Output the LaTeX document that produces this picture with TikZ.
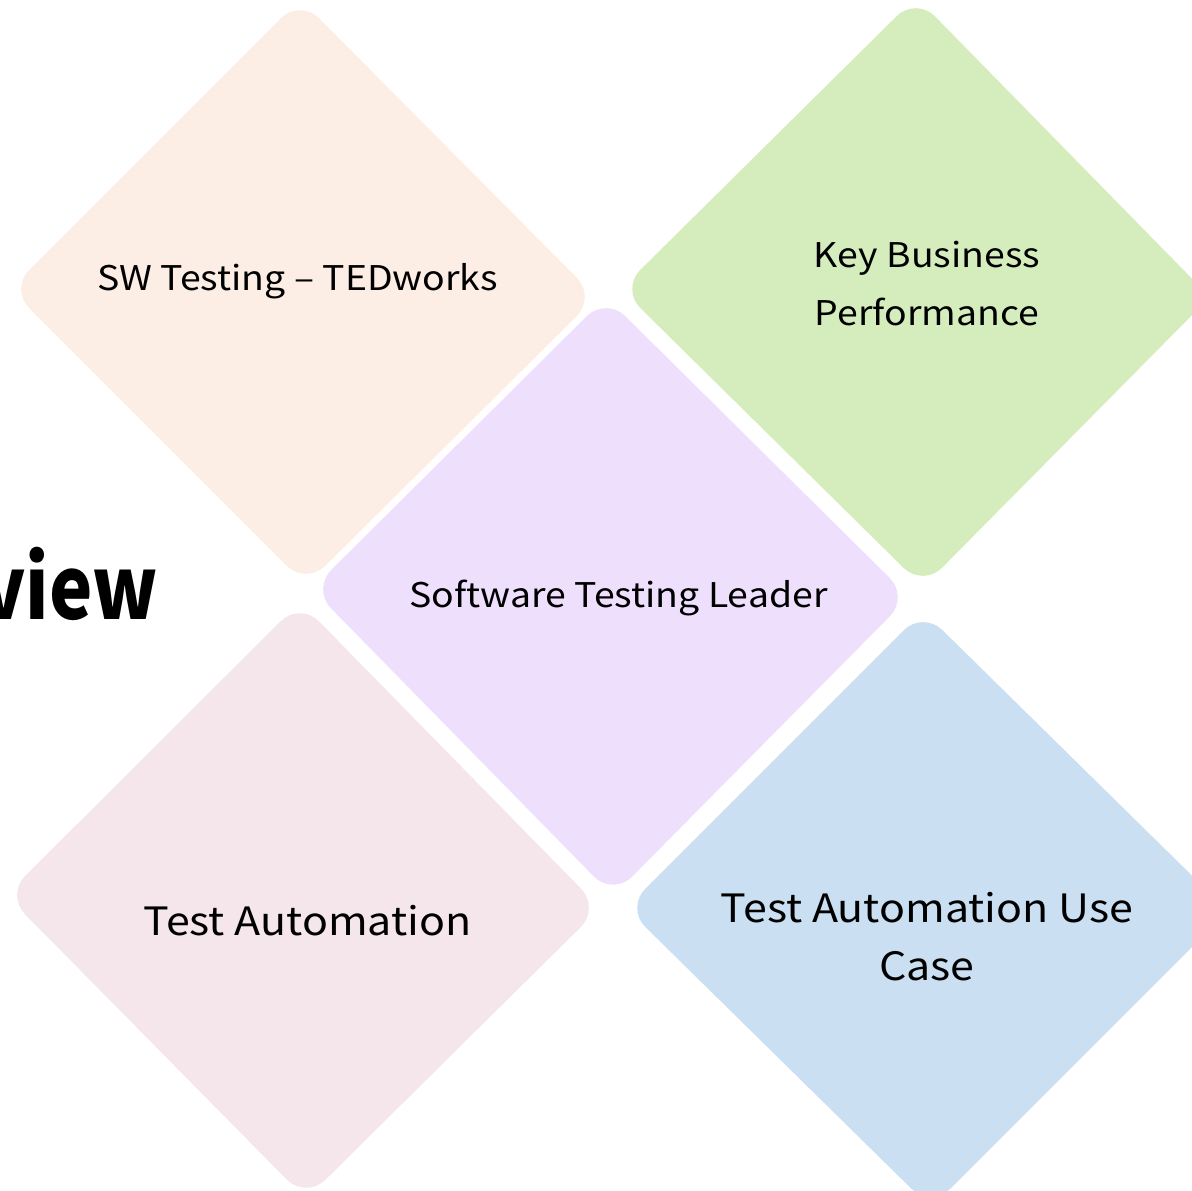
\documentclass[tikz,border=0pt]{standalone}
\usepackage{fontspec}
\setmainfont{Noto Sans CJK KR}[FakeStretch=1.1]
\newfontfamily\titlefont{Noto Sans CJK KR}[FakeStretch=0.84]
\definecolor{peach}{HTML}{FCEEE5}
\definecolor{leaf}{HTML}{D5EDBC}
\definecolor{lilac}{HTML}{EEE0FD}
\definecolor{rosy}{HTML}{F4E6EB}
\definecolor{sky}{HTML}{CBDFF2}
\begin{document}
\begin{tikzpicture}[x=1pt,y=-1pt,
  tile/.style={rounded corners=27pt},
  txt/.style={text=black, align=center, inner sep=0pt},
  smalltxt/.style={txt, font=\fontsize{34}{58}\selectfont},
  bigtxt/.style={txt, font=\fontsize{39}{58}\selectfont}]
\useasboundingbox (0,0) rectangle (1192,1191);
% tiles
\fill[peach, tile] (300,-1) -- (596,297) -- (306,585) -- (10,289) -- cycle;
\fill[leaf, tile] (916,-3) -- (1210,297) -- (923,587) -- (621,289) -- cycle;
\fill[lilac, tile] (606,297) -- (909,597) -- (613,896) -- (312,589) -- cycle;
\fill[rosy, tile] (300,602) -- (600,908) -- (306,1199) -- (6,895) -- cycle;
\fill[sky, tile] (923,611) -- (1228,911) -- (931,1208) -- (626,908) -- cycle;
% texts
\node[txt, anchor=base east, font=\titlefont\bfseries\fontsize{87}{87}\selectfont] (title) at (158,619) {view};
\node[smalltxt, anchor=base] (sw) at (297.5,290) {SW Testing – TEDworks};
\node[smalltxt, anchor=base] (kbp) at (927,325) {Key Business\\Performance};
\node[smalltxt, anchor=base] (stl) at (618.5,607) {Software Testing Leader};
\node[bigtxt, anchor=base] (ta) at (307.5,935) {Test Automation};
\node[bigtxt, anchor=base] (tauc) at (927,980) {Test Automation Use\\Case};
\end{tikzpicture}
\end{document}
